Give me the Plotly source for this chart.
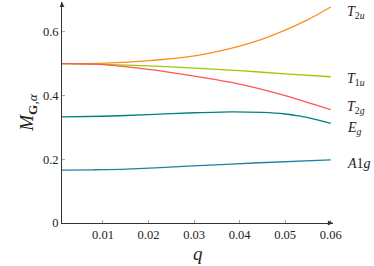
import plotly.graph_objects as go

q_T2u = [0.001, 0.0093, 0.0195, 0.0297, 0.035, 0.040, 0.045, 0.050, 0.055, 0.060]
T2u = [0.500, 0.501, 0.509, 0.524, 0.538, 0.555, 0.577, 0.605, 0.638, 0.678]

q_T1u = [0.001, 0.010, 0.020, 0.030, 0.040, 0.050, 0.060]
T1u = [0.500, 0.498, 0.493, 0.486, 0.478, 0.468, 0.459]

q_T2g = [0.001, 0.0093, 0.0195, 0.0297, 0.040, 0.050, 0.060]
T2g = [0.500, 0.498, 0.483, 0.462, 0.436, 0.400, 0.356]

q_Eg = [0.001, 0.010, 0.020, 0.030, 0.038, 0.045, 0.050, 0.0525, 0.055, 0.0575, 0.060]
Eg = [0.333, 0.335, 0.340, 0.346, 0.349, 0.347, 0.342, 0.337, 0.331, 0.322, 0.313]

q_A1g = [0.001, 0.008, 0.0152, 0.0297, 0.0444, 0.060]
A1g = [0.166, 0.167, 0.169, 0.179, 0.189, 0.198]

series = [
    ("T2u", q_T2u, T2u, "#FF8C1A", "<i>T</i><sub>2<i>u</i></sub>", 0.659),
    ("T1u", q_T1u, T1u, "#99CC00", "<i>T</i><sub>1<i>u</i></sub>", 0.449),
    ("T2g", q_T2g, T2g, "#FF5555", "<i>T</i><sub>2<i>g</i></sub>", 0.364),
    ("Eg", q_Eg, Eg, "#008080", "<i>E</i><sub><i>g</i></sub>", 0.298),
    ("A1g", q_A1g, A1g, "#1F80A0", "<i>A</i>1<i>g</i>", 0.188),
]

font_family = "Liberation Serif, DejaVu Serif, serif"
fig = go.Figure()
for name, xs, ys, col, lab, ly in series:
    fig.add_trace(go.Scatter(x=xs, y=ys, mode="lines", name=name,
                             line=dict(color=col, width=1.3, shape="spline", smoothing=0.6)))
    fig.add_annotation(x=1.044, y=ly, xref="paper", yref="y", text=lab, showarrow=False,
                       xanchor="left", yanchor="middle",
                       font=dict(family=font_family, size=14, color="#222"))

# x-axis title placed as annotation
fig.add_annotation(x=0.5, y=-0.14, xref="paper", yref="paper", text="<i>q</i>",
                   showarrow=False, xanchor="center", yanchor="middle",
                   font=dict(family=font_family, size=19, color="#222"))

# axis arrowheads (paper coordinates)
fig.add_shape(type="path", xref="paper", yref="paper",
              path="M 1.0 0 L 0.981 0.011 L 0.981 -0.011 Z",
              fillcolor="#333", line=dict(width=0))
fig.add_shape(type="path", xref="paper", yref="paper",
              path="M 0 1.0 L 0.009 0.977 L -0.009 0.977 Z",
              fillcolor="#333", line=dict(width=0))

fig.update_layout(
    width=374, height=266,
    margin=dict(l=62, r=41, t=2, b=43),
    plot_bgcolor="white", paper_bgcolor="white",
    showlegend=False,
    font=dict(family=font_family, color="#222"),
)
fig.update_xaxes(range=[0.001, 0.0605], showgrid=False, zeroline=False,
                 showline=True, linecolor="#333", linewidth=1,
                 tickvals=[0.01, 0.02, 0.03, 0.04, 0.05, 0.06],
                 ticktext=["0.01", "0.02", "0.03", "0.04", "0.05", "0.06"],
                 ticks="inside", ticklen=3, tickcolor="#aaa",
                 tickfont=dict(size=12.5, family=font_family))
fig.update_yaxes(range=[0, 0.6935], showgrid=False, zeroline=False,
                 showline=True, linecolor="#333", linewidth=1,
                 tickvals=[0, 0.2, 0.4, 0.6], ticktext=["0", "0.2", "0.4", "0.6"],
                 ticks="inside", ticklen=3, tickcolor="#aaa",
                 tickfont=dict(size=12.5, family=font_family),
                 title=dict(text="<i>M</i><sub><b>G</b>,<i>α</i></sub>",
                            font=dict(size=19, family=font_family), standoff=4))

fig.write_html("out.html", config={"displayModeBar": False},
               post_script="document.body.style.margin='0';")
